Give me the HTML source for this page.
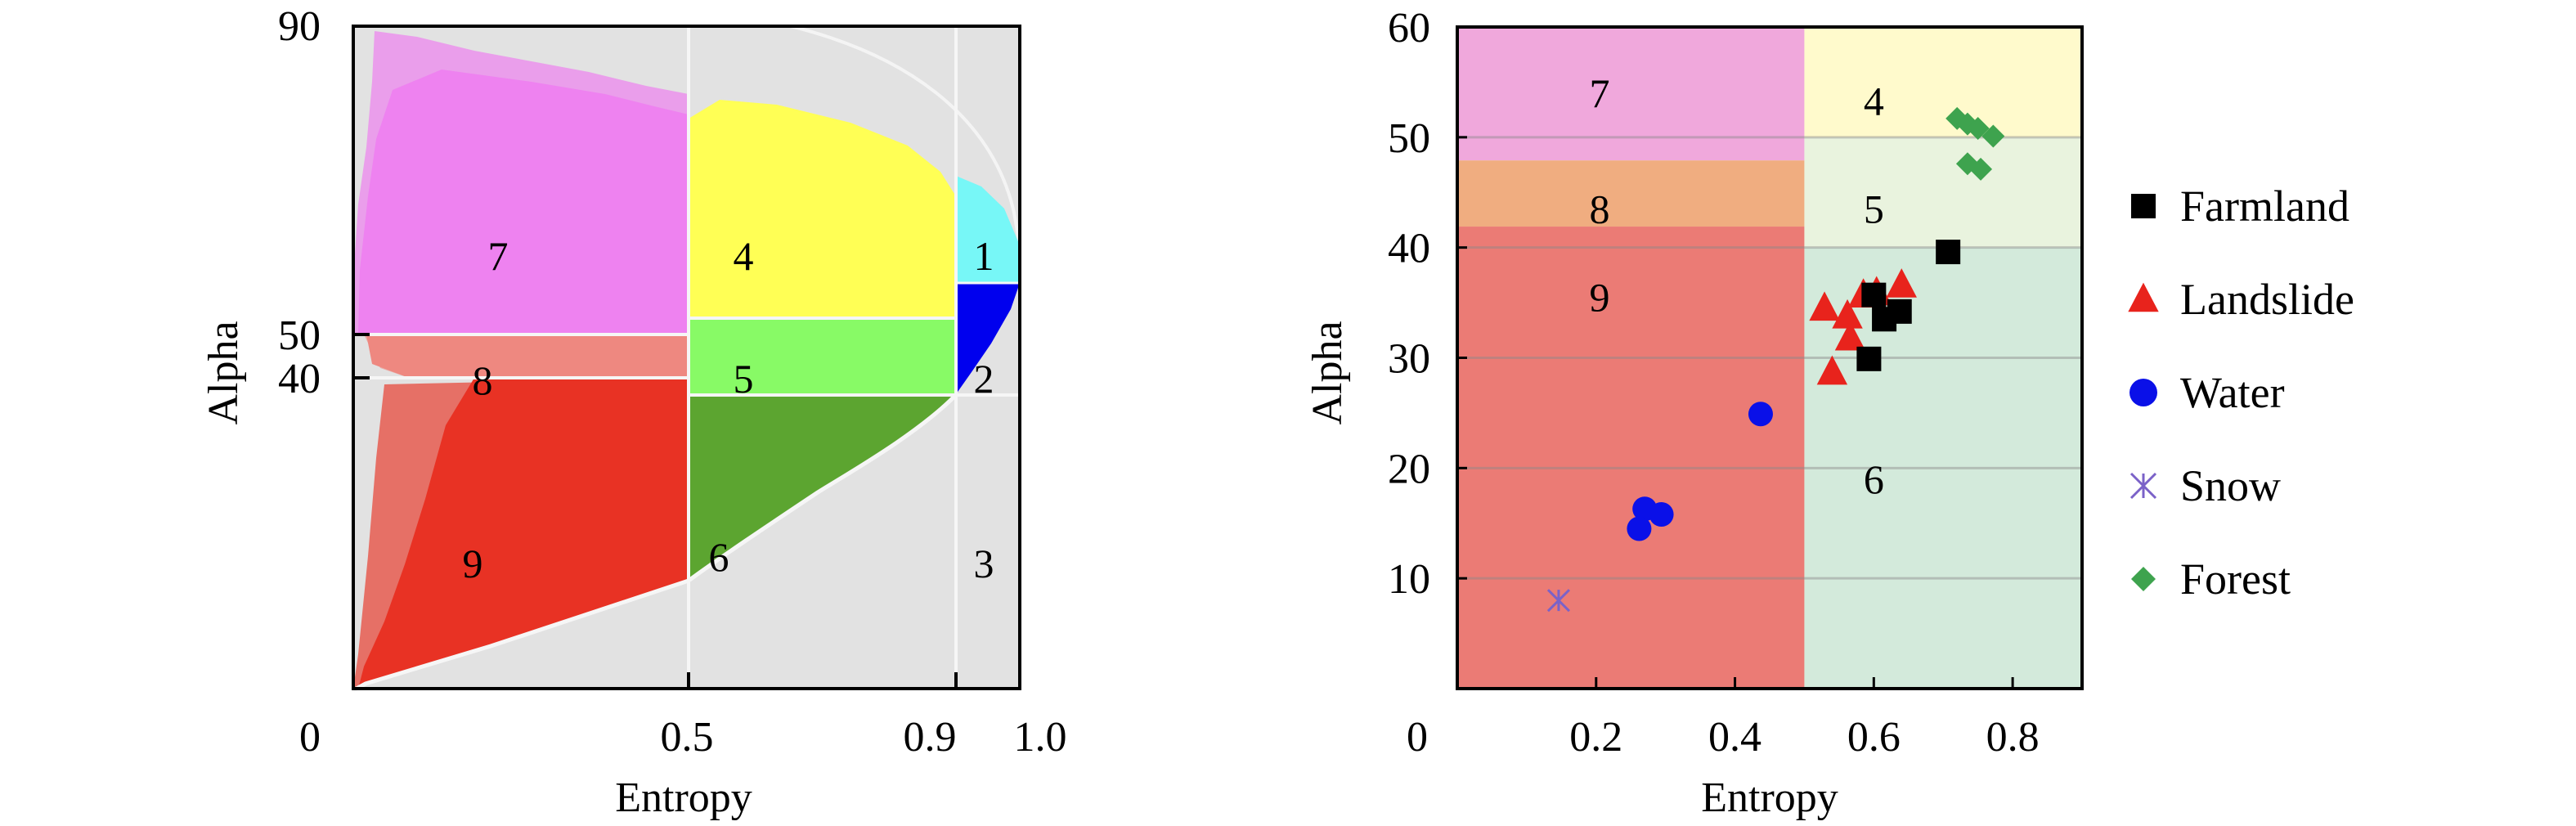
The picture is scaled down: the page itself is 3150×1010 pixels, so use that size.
<!DOCTYPE html>
<html><head><meta charset="utf-8"><style>
html,body{margin:0;padding:0;background:#fff;width:3150px;height:1010px;overflow:hidden}
svg{display:block}
text{font-family:"Liberation Serif","DejaVu Serif",serif;fill:#000}
</style></head><body>
<svg id="fig" width="3150" height="1010" viewBox="0 0 3150 1010" font-family="'Liberation Serif', 'DejaVu Serif', serif">
<!-- ===== LEFT CHART ===== -->
<g>
  <rect x="432" y="32" width="815" height="810" fill="#e2e2e2"/>
  <path d="M967,32 C1120,70 1215,150 1240,260 L1247,300" fill="none" stroke="#f4f4f4" stroke-width="4"/>
  <path d="M432,409 L432,340 L438,250 L448,180 L455,100 L458,38 L510,45 L580,62 L650,75 L720,88 L790,105 L842,115 L842,409 Z" fill="#ee82f0" opacity="0.7"/>
  <path d="M438,409 L440,330 L450,240 L460,170 L480,110 L540,85 L650,100 L740,115 L800,130 L842,140 L842,409 Z" fill="#ee82f0"/>
  <path d="M448,409 L840,409 L840,462 L500,462 L455,445 Z" fill="#ee8880"/>
  <path d="M445,409 L520,409 L500,462 L465,450 Z" fill="#ee8880" opacity="0.6"/>
  <path d="M432,842 L447,834 L510,815 L600,788 L700,755 L842,708 L842,462 L470,470 L460,560 L450,680 L438,800 Z" fill="#e83224" opacity="0.65"/>
  <path d="M438,842 L447,834 L510,815 L600,788 L700,755 L842,708 L842,462 L580,462 L545,520 L520,610 L495,690 L470,760 L445,815 Z" fill="#e83224"/>
  <path d="M842,389 L842,145 L880,122 L950,128 L1040,150 L1110,178 L1150,210 L1169,240 L1169,389 Z" fill="#ffff55"/>
  <rect x="842" y="389" width="327" height="94" fill="#88fa66"/>
  <path d="M842,483 L1165,483 C1120,530 1040,575 1000,600 C940,640 880,680 842,708 Z" fill="#5ca530"/>
  <path d="M1169,346 L1169,215 L1200,228 L1228,255 L1247,300 L1247,346 Z" fill="#77f7f7"/>
  <path d="M1169,346 L1247,346 L1236,378 L1212,420 L1188,455 L1169,482 Z" fill="#0000ee"/>
  <g stroke="#f6f6f6" stroke-width="4" fill="none">
    <line x1="842" y1="32" x2="842" y2="842"/>
    <line x1="1169" y1="32" x2="1169" y2="842"/>
    <line x1="432" y1="409" x2="842" y2="409"/>
    <line x1="432" y1="462" x2="842" y2="462"/>
    <line x1="842" y1="389" x2="1169" y2="389"/>
    <line x1="842" y1="483" x2="1247" y2="483"/>
    <line x1="1169" y1="346" x2="1247" y2="346" stroke-width="3"/>
    <path d="M432,844 L447,836 L510,817 L600,790 L700,757 L842,710 C880,682 940,642 1000,602 C1040,577 1120,532 1169,483" stroke-width="5"/>
  </g>
  <rect x="432" y="32" width="815" height="810" fill="none" stroke="#000" stroke-width="4"/>
  <g stroke="#000" stroke-width="4">
    <line x1="432" y1="409" x2="452" y2="409"/><line x1="432" y1="462" x2="452" y2="462"/>
    <line x1="842" y1="842" x2="842" y2="822"/><line x1="1169" y1="842" x2="1169" y2="822"/>
  </g>
  <g font-size="50" text-anchor="middle">
    <text x="609" y="330">7</text>
    <text x="909" y="330">4</text>
    <text x="1203" y="330">1</text>
    <text x="590" y="482">8</text>
    <text x="909" y="480">5</text>
    <text x="1203" y="480">2</text>
    <text x="578" y="706">9</text>
    <text x="879" y="698">6</text>
    <text x="1203" y="706">3</text>
  </g>
  <g font-size="52" text-anchor="end">
    <text x="392" y="49">90</text><text x="392" y="427">50</text><text x="392" y="480">40</text>
  </g>
  <g font-size="52" text-anchor="middle">
    <text x="379" y="918">0</text><text x="840" y="918">0.5</text><text x="1137" y="918">0.9</text><text x="1272" y="918">1.0</text>
  </g>
  <text x="836" y="992" font-size="52" text-anchor="middle">Entropy</text>
  <text transform="translate(290,456) rotate(-90)" font-size="52" text-anchor="middle">Alpha</text>
</g>

<g id="right"></g>
</svg>
<script>
const farmlandX=[0.707,0.593,0.615,0.637,0.600];
const farmlandY=[39.6,29.9,33.5,34.2,35.7];
const landslideX=[0.529,0.540,0.562,0.566,0.585,0.604,0.640];
const landslideY=[34.5,28.7,33.8,31.8,35.7,35.9,36.6];
const waterX=[0.437,0.270,0.294,0.262];
const waterY=[24.9,16.3,15.8,14.5];
const snowX=[0.146];
const snowY=[8.0];
const forestX=[0.720,0.735,0.750,0.772,0.735,0.754];
const forestY=[51.7,51.2,50.8,50.1,47.6,47.1];
const xTicks=[0.2,0.4,0.6,0.8];
const yTicks=[10,20,30,40,50,60];
const legendNames=["Farmland","Landslide","Water","Snow","Forest"];

const NS="http://www.w3.org/2000/svg";
const g=document.getElementById('right');
const X0=1782,X1=2546,Y0=842,Y1=33,XMAX=0.9,YMAX=60;
function sx(v){return X0+(v/XMAX)*(X1-X0);}
function sy(v){return Y0-(v/YMAX)*(Y0-Y1);}
function mk(tag,attrs,parent){const e=document.createElementNS(NS,tag);for(const k in attrs)e.setAttribute(k,attrs[k]);(parent||g).appendChild(e);return e;}

let r;
r=mk('rect',{x:X0,y:Y1,width:sx(0.5)-X0,height:sy(47.9)-Y1,fill:'#f0a8dc'});

r=mk('rect',{x:X0,y:sy(47.9),width:sx(0.5)-X0,height:sy(41.9)-sy(47.9),fill:'#f0ad80'});

r=mk('rect',{x:X0,y:sy(41.9),width:sx(0.5)-X0,height:Y0-sy(41.9),fill:'#eb7b75'});

r=mk('rect',{x:sx(0.5),y:Y1,width:X1-sx(0.5),height:sy(50)-Y1,fill:'#fffacc'});

r=mk('rect',{x:sx(0.5),y:sy(50),width:X1-sx(0.5),height:sy(40)-sy(50),fill:'#e9f3de'});

r=mk('rect',{x:sx(0.5),y:sy(40),width:X1-sx(0.5),height:Y0-sy(40),fill:'#d3eadb'});


yTicks.forEach(t=>{ if(t>=60) return;
  const l=mk('line',{x1:X0,x2:X1,y1:sy(t),y2:sy(t),stroke:'#8a8a8a','stroke-opacity':0.45,'stroke-width':3});
  
  
});

[[0.205,54,'7'],[0.205,43.5,'8'],[0.205,35.5,'9'],[0.6,53.3,'4'],[0.6,43.5,'5'],[0.6,19,'6']].forEach(z=>{
  const t=mk('text',{x:sx(z[0]),y:sy(z[1])+17,'font-size':50,'text-anchor':'middle'});t.textContent=z[2];
  
  
});

function square(cx,cy,s,parent){return mk('rect',{x:cx-s/2,y:cy-s/2,width:s,height:s,fill:'#000'},parent);}
function tri(cx,cy,s,parent){return mk('polygon',{points:`${cx},${cy-s*0.6} ${cx+s*0.55},${cy+s*0.45} ${cx-s*0.55},${cy+s*0.45}`,fill:'#e8231c'},parent);}
function circ(cx,cy,s,parent){return mk('circle',{cx:cx,cy:cy,r:s/2,fill:'#0a10e8'},parent);}
function star(cx,cy,s,parent){const h=s/2;return mk('path',{d:`M${cx-h},${cy-h}L${cx+h},${cy+h}M${cx+h},${cy-h}L${cx-h},${cy+h}M${cx},${cy-h}L${cx},${cy+h}`,stroke:'#7b62c8','stroke-width':3,fill:'none'},parent);}
function diam(cx,cy,s,parent){const h=s/2;return mk('polygon',{points:`${cx},${cy-h} ${cx+h},${cy} ${cx},${cy+h} ${cx-h},${cy}`,fill:'#3ea34e'},parent);}

const series=[[landslideX,landslideY,tri,34,'landslide'],[farmlandX,farmlandY,square,30,'farmland'],[waterX,waterY,circ,30,'water'],[snowX,snowY,star,26,'snow'],[forestX,forestY,diam,28,'forest']];
series.forEach(sr=>{
  sr[0].forEach((v,i)=>{
    const e=sr[2](sx(v),sy(sr[1][i]),sr[3]);
    
    
  });
});

r=mk('rect',{x:X0,y:Y1,width:X1-X0,height:Y0-Y1,fill:'none',stroke:'#000','stroke-width':4});


xTicks.forEach(t=>{
  const l=mk('line',{x1:sx(t),x2:sx(t),y1:Y0,y2:Y0-14,stroke:'#000','stroke-width':3});
  
  
  const tx=mk('text',{x:sx(t),y:918,'font-size':52,'text-anchor':'middle'});tx.textContent=t.toFixed(1);
  
  
});
let z=mk('text',{x:1733,y:918,'font-size':52,'text-anchor':'middle'});z.textContent='0';


yTicks.forEach(t=>{
  const l=mk('line',{x1:X0,x2:X0+12,y1:sy(t),y2:sy(t),stroke:'#000','stroke-width':3});
  
  
  const tx=mk('text',{x:1749,y:sy(t)+18,'font-size':52,'text-anchor':'end'});tx.textContent=String(t);
  
  
});
z=mk('text',{x:2164,y:992,'font-size':52,'text-anchor':'middle'});z.textContent='Entropy';


z=mk('text',{'font-size':52,'text-anchor':'middle',transform:'translate(1640,456) rotate(-90)'});z.textContent='Alpha';



const legendFns=[square,tri,circ,star,diam];
const legendSizes=[30,34,34,30,30];
legendNames.forEach((n,i)=>{
  const y=252+i*114;
  const grp=mk('g',{});
  
  
  legendFns[i](2621,y,legendSizes[i],grp);
  const t=mk('text',{x:2666,y:y+18,'font-size':54},grp);t.textContent=n;
});
</script>
</body></html>
